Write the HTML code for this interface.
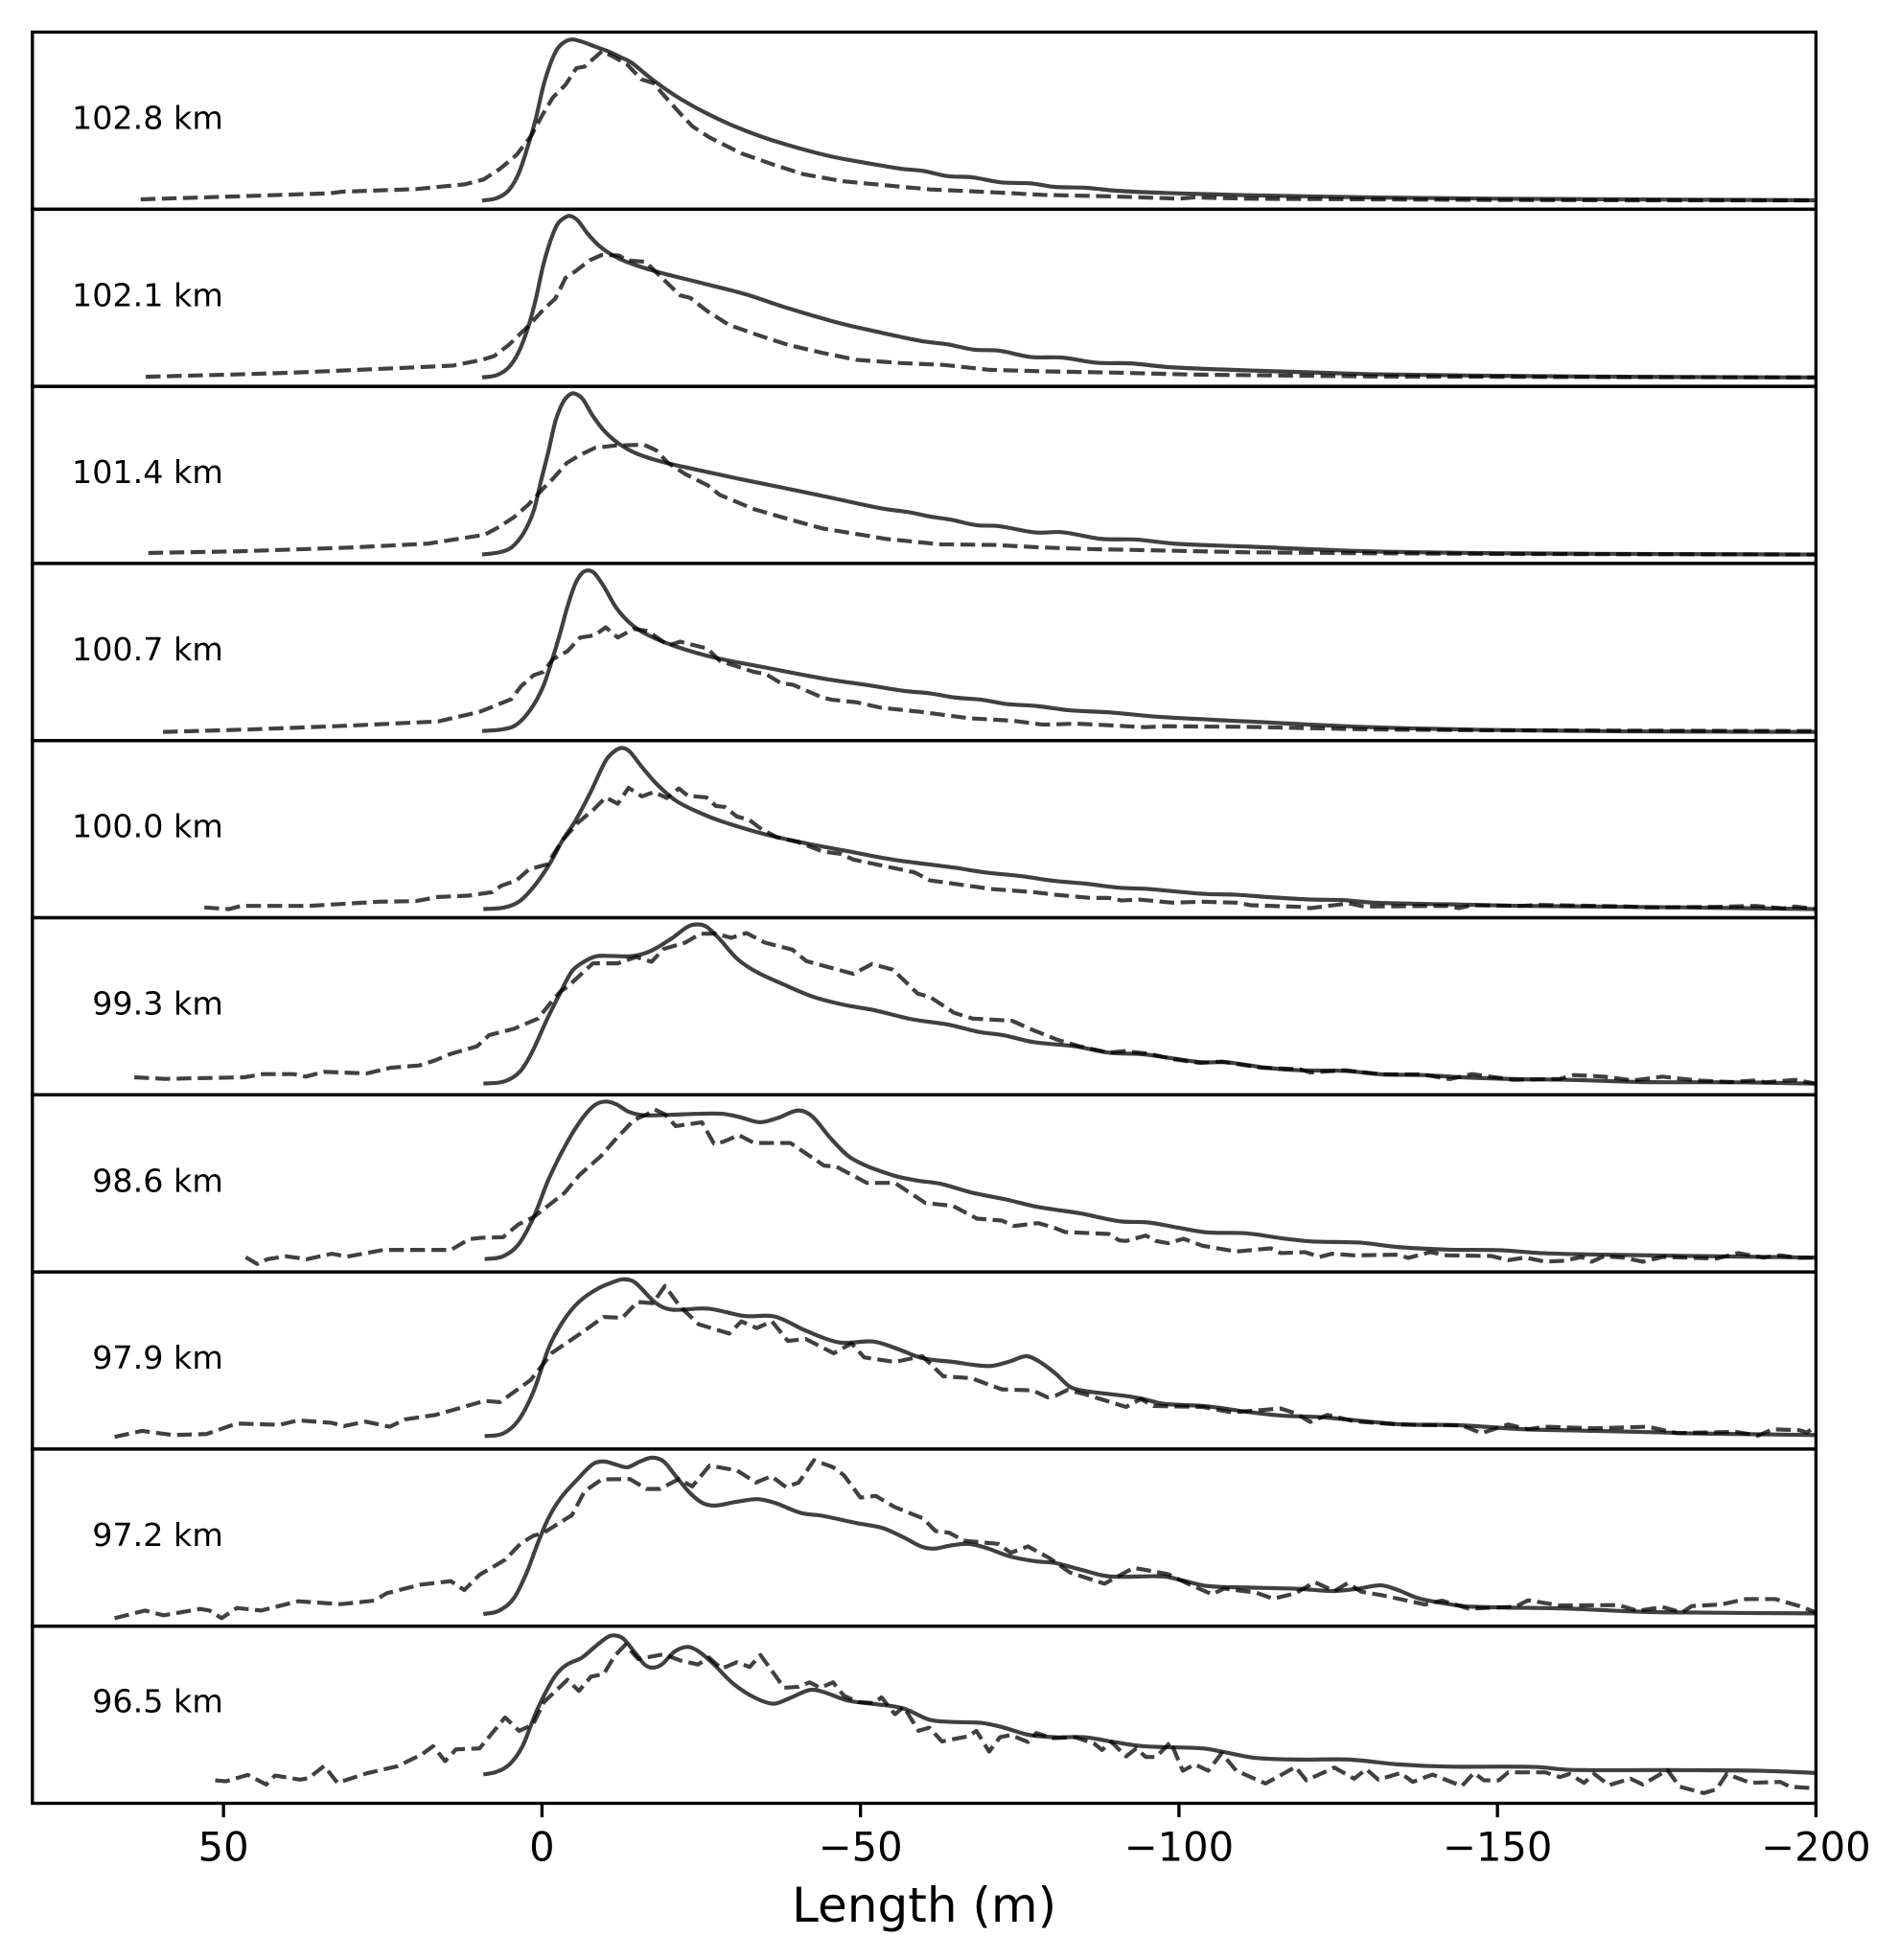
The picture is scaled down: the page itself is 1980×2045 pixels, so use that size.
<!DOCTYPE html>
<html lang="en">
<head>
<meta charset="utf-8">
<title>Length profiles by altitude</title>
<style>
html,body{margin:0;padding:0;background:#fff;}
svg{display:block;font-family:"DejaVu Sans",sans-serif;}
</style>
</head>
<body>
<svg id="chart" xmlns="http://www.w3.org/2000/svg" width="1980" height="2045" viewBox="0 0 1980 2045">
<rect x="0" y="0" width="1980" height="2045" fill="#ffffff"></rect>
</svg>
<script>
// Panel categories, top to bottom
const panelLabels = ['102.8 km','102.1 km','101.4 km','100.7 km','100.0 km','99.3 km','98.6 km','97.9 km','97.2 km','96.5 km'];
const xTicks = [50,0,-50,-100,-150,-200];
const xTickLabels = ['50','0','\u221250','\u2212100','\u2212150','\u2212200'];
const xAxisTitle = 'Length (m)';

// Each series: [length in m, relative intensity on a 0-555 panel scale]
const solid1028 = [[9.4,27],[7.1,35],[5.2,60],[3.6,115],[2.1,205],[0.95,285],[-0.2,385],[-1.4,460],[-2.5,505],[-3.7,526],[-4.8,532],[-6.4,524],[-8.3,510],[-10.6,493],[-12.5,475],[-14,460],[-17.1,410],[-21,355],[-25.6,303],[-30.2,260],[-34.8,225],[-40.2,192],[-45.5,165],[-50.9,145],[-56.3,127],[-59.8,120],[-63.6,104],[-67.5,100],[-72.1,84],[-76.7,81],[-80.5,70],[-85.5,67],[-90.1,58],[-97.8,51],[-110.7,44],[-130,37],[-150,33],[-170,31],[-200,28]];
const dashed1028 = [[63,31],[46.7,41],[33.2,50],[31.3,55],[19.8,63],[12.1,78],[9.2,93],[6.7,125],[4,170],[1.7,230],[-0.2,300],[-1.7,350],[-3.7,390],[-5.4,442],[-6.7,447],[-9.4,495],[-11,480],[-13.3,455],[-15.6,407],[-17.5,395],[-19,360],[-21.7,300],[-23.6,260],[-26.3,225],[-31.3,175],[-36.3,140],[-41,110],[-47.1,88],[-54,75],[-61,62],[-71,53],[-78.6,45],[-90.1,40],[-100,33],[-102.4,37],[-110.7,33],[-130,31],[-150,29],[-170,28],[-200,28]];

const solid1021 = [[9.4,28],[7.1,35],[5.2,60],[3.6,110],[2.1,190],[0.95,275],[-0.2,380],[-1.4,460],[-2.5,510],[-3.7,530],[-4.4,534],[-5.6,520],[-7.1,480],[-9,440],[-11,412],[-13.3,390],[-17.9,360],[-24.8,325],[-31.7,290],[-38.6,245],[-46.7,198],[-51.7,175],[-56.3,155],[-60.2,140],[-63.6,132],[-67.8,115],[-71.7,112],[-76.7,92],[-81.7,90],[-87.1,74],[-92.4,72],[-98.6,60],[-110.7,50],[-130,38],[-150,33],[-170,30],[-200,28]];
const dashed1021 = [[62.2,30],[46.7,38],[39,43],[22.7,57],[14,65],[9.4,83],[7.5,95],[5.2,130],[2.1,190],[-0.2,240],[-2.1,275],[-3.7,340],[-5.2,360],[-7.5,395],[-9.4,412],[-12.1,410],[-13.3,395],[-16.3,390],[-18.3,350],[-21.7,285],[-23.3,277],[-26,235],[-29.4,192],[-34,160],[-38.6,130],[-44,105],[-49.4,83],[-56.3,73],[-63.2,67],[-70.1,52],[-78.6,47],[-90.1,43],[-101.7,37],[-110.7,35],[-130,31],[-150,30],[-170,29],[-200,28]];

const solid1014 = [[9.4,28],[6.7,35],[4.8,50],[2.9,95],[1.3,165],[0.2,255],[-1,350],[-2.1,445],[-3.3,505],[-4.4,530],[-5.2,532],[-6.4,515],[-7.9,465],[-9.8,415],[-12.1,375],[-14.8,345],[-18.6,320],[-24,295],[-31,265],[-37.9,237],[-45.6,205],[-53.2,173],[-57.8,160],[-60.9,147],[-64,138],[-68.2,120],[-71.7,117],[-77.5,97],[-81.7,98],[-87.8,77],[-93.2,75],[-99.3,62],[-110.7,53],[-130,38],[-150,32],[-170,30],[-200,28]];
const dashed1014 = [[61.8,33],[47.7,38],[30,50],[18,62],[9,90],[6.7,115],[4.4,145],[2.1,185],[-0.2,235],[-1.7,265],[-3.9,315],[-6,340],[-8.3,362],[-11.7,370],[-16,372],[-17.9,355],[-19.8,315],[-22.5,280],[-26,245],[-27.9,215],[-33.3,170],[-39.4,135],[-44,110],[-54,77],[-62.5,60],[-71,58],[-78.6,50],[-86.3,45],[-94,42],[-110.7,35],[-130,32],[-150,30],[-170,29],[-200,28]];

const solid1007 = [[9.4,30],[6.3,35],[4,50],[1.7,100],[-0.2,170],[-1.7,260],[-2.9,340],[-4,420],[-5.2,490],[-6.3,525],[-7.3,533],[-8.3,523],[-9.8,480],[-11.7,415],[-14,365],[-16.7,330],[-21,295],[-27.1,260],[-34.8,230],[-44,195],[-51.7,172],[-57.1,155],[-60.9,148],[-64.8,135],[-69,128],[-72.8,115],[-77.8,108],[-82.8,95],[-89.4,88],[-96.3,75],[-110.7,60],[-130,42],[-150,33],[-170,29],[-200,27]];
const dashed1007 = [[59.5,27],[45.7,35],[30,47],[16.3,60],[9.8,90],[7.5,108],[4.8,130],[3.3,170],[1.3,205],[-0.2,215],[-1.7,255],[-4,280],[-6,323],[-8.3,330],[-10,355],[-11.9,323],[-14.4,350],[-16.7,343],[-19.8,298],[-21.7,310],[-26,288],[-27.9,250],[-33.3,215],[-35.2,208],[-37.5,180],[-39.4,175],[-44,135],[-45.5,128],[-49.4,120],[-53.2,103],[-59.4,90],[-67.1,70],[-74,62],[-78.6,50],[-84,53],[-94.7,42],[-97.8,45],[-110.7,43],[-130,35],[-150,32],[-200,30]];

const solid1000 = [[9.2,27],[5.9,32],[3.5,52],[1.1,102],[-1.3,172],[-3.2,242],[-5.2,302],[-7.6,392],[-10,492],[-11.4,522],[-12.6,532],[-13.8,520],[-15.7,472],[-18.1,417],[-21,367],[-24.4,332],[-28.2,302],[-34.9,262],[-41.7,232],[-48.4,207],[-55.1,182],[-64.7,157],[-69.5,142],[-75.3,130],[-80.6,115],[-85.2,107],[-90.6,94],[-95.2,90],[-103.7,75],[-109,72],[-114.4,64],[-120.6,57],[-125.9,55],[-130.6,47],[-142.1,42],[-153.6,37],[-165.2,35],[-180.5,32],[-200,27]];
const dashed1000 = [[53,32],[49.1,27],[47.2,37],[39,37],[36.6,37],[25.6,50],[19.8,52],[16.4,65],[11.6,69],[7.8,80],[6.4,100],[4,117],[2,152],[-0.8,167],[-3.2,242],[-5.6,297],[-8,337],[-10,377],[-11.9,357],[-13.6,407],[-15.7,380],[-17.6,394],[-19.6,375],[-21.5,405],[-22.9,382],[-25.8,377],[-27.3,350],[-28.7,347],[-30.6,317],[-32.5,307],[-34.5,277],[-36.9,252],[-40.2,237],[-44.1,207],[-46.9,200],[-48.9,182],[-56.1,152],[-58.5,142],[-60.9,117],[-70.5,90],[-77.2,80],[-80.6,72],[-86,62],[-89,62],[-91,54],[-93.7,57],[-99,47],[-103.7,50],[-109,47],[-111.3,39],[-119,34],[-120.6,30],[-126.7,45],[-129,35],[-142,37],[-144,30],[-146,39],[-153.6,37],[-156.7,40],[-170.5,35],[-173.6,32],[-184.4,34],[-190.5,37],[-195,29],[-196.7,35],[-200,27]];

const solid993 = [[9.2,35],[5.9,42],[3.5,72],[1.6,132],[-0.8,237],[-2.8,317],[-4.7,387],[-6.6,417],[-8.5,434],[-10.9,435],[-14.3,435],[-17.2,452],[-20.5,492],[-22.9,527],[-24.4,534],[-25.8,527],[-27.7,492],[-30.6,427],[-33.5,387],[-37.8,347],[-42.6,307],[-47.4,282],[-52.2,265],[-58,237],[-63.8,220],[-68.6,197],[-72.4,187],[-77.2,165],[-83.7,152],[-89,132],[-94.4,127],[-99,114],[-103.7,102],[-107.5,102],[-113.6,85],[-119,77],[-126,75],[-132,64],[-138.2,62],[-144.4,55],[-153.6,49],[-161.3,47],[-172.8,40],[-188.2,39],[-200,35]];
const dashed993 = [[64,55],[59.2,50],[46.7,55],[43.8,65],[39,65],[37.1,57],[34.2,72],[27.5,67],[23.7,85],[19.3,92],[16.9,107],[14.5,127],[10.2,152],[8.3,187],[4.4,207],[0.6,239],[-1.3,287],[-2.8,322],[-4.2,342],[-6.1,377],[-8,412],[-11.9,412],[-14.8,432],[-17.2,417],[-19.1,457],[-22.5,477],[-24.9,505],[-27.3,505],[-29.7,492],[-32.1,507],[-35,477],[-39.3,455],[-41.5,419],[-48.9,379],[-51.8,410],[-55.1,392],[-59,317],[-60.9,307],[-64.7,257],[-67.6,239],[-73.8,232],[-77.2,202],[-81,172],[-84.4,152],[-89,132],[-91.4,137],[-95.2,129],[-99,112],[-103.3,100],[-106.7,104],[-112.9,85],[-119,80],[-120.6,70],[-126,77],[-132,64],[-138.2,64],[-142.5,49],[-146,65],[-152.5,47],[-159.8,50],[-162,62],[-166.7,57],[-171.3,45],[-175.9,57],[-181.3,45],[-186.7,40],[-190.5,45],[-192.1,39],[-196.7,47],[-200,35]];

const solid986 = [[9,40],[6.1,49],[3.7,86],[1.3,172],[-1.1,293],[-4,408],[-6.4,483],[-8.3,523],[-10,534],[-11.7,525],[-13.6,502],[-16,491],[-22.2,494],[-28,496],[-30.9,486],[-34.2,469],[-37.1,483],[-40.2,506],[-42.4,488],[-45.3,419],[-48.6,356],[-54.9,304],[-58.7,287],[-62.6,276],[-67.4,249],[-73.1,226],[-77,207],[-80.6,195],[-84.4,184],[-90.6,159],[-95.2,155],[-99.8,139],[-104.4,124],[-110.6,121],[-116.7,104],[-121.3,95],[-128.3,92],[-134.4,78],[-142.1,70],[-150.5,68],[-156.7,59],[-166.7,54],[-180.5,50],[-200,45]];
const dashed986 = [[46.5,46],[44.7,25],[43.1,40],[40.2,49],[36.9,40],[33,57],[30.6,48],[24.9,69],[14.3,69],[11.4,103],[9.5,107],[6.1,109],[3.7,149],[1.3,172],[-3.5,247],[-5.9,304],[-9.2,362],[-11.7,419],[-14.5,477],[-16.5,494],[-17.7,509],[-19.3,494],[-21,457],[-25.1,469],[-27,402],[-28.5,408],[-30.9,429],[-33.3,404],[-39,404],[-44.3,333],[-46.2,330],[-51,279],[-55.4,279],[-60.2,216],[-64.5,207],[-68.3,167],[-72.2,161],[-74.1,144],[-77.9,153],[-80.6,137],[-82.1,125],[-89,119],[-90.6,99],[-91.7,97],[-94.8,114],[-96.4,97],[-98.3,90],[-100.7,104],[-103.7,82],[-109,64],[-114.4,74],[-116,59],[-119.8,62],[-122.1,47],[-124,57],[-127.5,52],[-134.4,54],[-136,44],[-139.4,62],[-142.1,52],[-149,50],[-151.7,37],[-154.4,45],[-157.5,32],[-160.5,35],[-163.2,47],[-164.8,32],[-166.7,49],[-169.8,45],[-172.8,32],[-175.9,47],[-184.4,42],[-187.8,59],[-191.7,45],[-194.4,52],[-197.4,44],[-200,45]];

const solid979 = [[9,40],[6.1,49],[3.7,90],[1.3,182],[-1.1,319],[-3.5,406],[-5.9,463],[-8.8,503],[-11.7,527],[-13,532],[-14.6,522],[-17.9,457],[-20.3,437],[-26.1,440],[-31.8,417],[-36.6,415],[-41.4,371],[-46.7,334],[-52,337],[-55.8,314],[-59.7,285],[-64.5,273],[-70.2,260],[-73.5,275],[-76,291],[-78,275],[-80.6,237],[-82.9,195],[-85.2,182],[-91.4,167],[-94.4,157],[-97.5,142],[-104.4,134],[-110.6,117],[-116,105],[-122.1,100],[-128.3,89],[-135.2,77],[-143.6,75],[-154.4,62],[-165.2,57],[-175.9,52],[-180.5,49],[-200,44]];
const dashed979 = [[67.1,38],[62.8,57],[58,44],[52.7,47],[47.9,80],[41.2,76],[38.3,90],[33,82],[31.1,72],[27.7,86],[23.9,70],[21.5,93],[16.7,107],[9,151],[6.6,147],[1.8,216],[-1.6,302],[-5.9,360],[-9.7,414],[-12.6,411],[-15,461],[-17.4,457],[-19.3,511],[-21.7,446],[-24.6,391],[-29.4,362],[-31.3,400],[-33.7,379],[-36.1,400],[-38.6,339],[-41.4,345],[-45.8,300],[-48.6,331],[-50.6,287],[-55.4,273],[-59.7,291],[-63,228],[-67.4,222],[-72.2,187],[-77,184],[-79.4,162],[-80.6,167],[-82.5,185],[-85.2,172],[-91.7,132],[-94,157],[-96,135],[-103.7,132],[-108.3,115],[-116,127],[-118.3,112],[-120.6,85],[-123.3,107],[-127.5,87],[-134.4,77],[-144.4,74],[-147.5,50],[-151.7,77],[-154.8,62],[-157.5,70],[-165.2,65],[-173.6,70],[-178.2,50],[-187.4,54],[-190.9,42],[-193.2,62],[-197.4,59],[-198.6,52],[-200,72]];

const solid972 = [[9.2,38],[6.8,48],[4.4,88],[2.4,168],[0.7,258],[-1,338],[-3,403],[-5.7,463],[-8,508],[-9.7,516],[-11.7,506],[-13.4,498],[-15.4,516],[-17.3,528],[-19.1,516],[-21.1,468],[-23.2,418],[-25.2,386],[-27.2,378],[-30.6,390],[-33.9,398],[-36.6,386],[-40.6,355],[-44,346],[-49.4,323],[-53.4,308],[-56.8,278],[-59.5,250],[-61.5,243],[-64.2,253],[-66.9,258],[-69.6,246],[-73.6,218],[-77.6,203],[-80.6,198],[-84.4,178],[-89,156],[-97.5,156],[-100.6,143],[-104.4,126],[-111.3,121],[-119,117],[-124,110],[-128.3,118],[-131.7,128],[-134.4,113],[-137.5,88],[-142.1,70],[-146,61],[-161.3,55],[-171.3,46],[-179,43],[-200,40]];
const dashed972 = [[67.1,25],[62.3,49],[59.4,34],[53.7,54],[52.2,49],[50.3,25],[47.9,57],[44.1,49],[38.3,78],[31.6,69],[26.3,80],[24.4,103],[19.1,130],[14.3,141],[12.2,113],[9.8,161],[5.8,208],[3.4,258],[1.4,283],[-0.3,293],[-4.7,348],[-6.7,423],[-9.4,460],[-13.8,461],[-16.4,430],[-18.5,430],[-21.5,461],[-23.6,438],[-26.3,503],[-30.6,488],[-33.6,450],[-36,470],[-38.3,436],[-40.3,450],[-42.7,520],[-45.7,498],[-47.4,473],[-50,403],[-52.4,408],[-55.4,373],[-59.8,338],[-61.8,298],[-63.9,293],[-66.2,268],[-71.6,258],[-73.6,230],[-76.3,250],[-79.7,213],[-82.9,168],[-88.3,133],[-92.9,183],[-98.3,163],[-101.4,133],[-105.2,100],[-107.1,118],[-112.1,105],[-114.8,86],[-118.3,103],[-121.3,138],[-124.4,110],[-126.5,135],[-128.6,108],[-132.1,96],[-138.6,68],[-141.3,80],[-145.5,55],[-152.8,61],[-154.8,81],[-159.8,65],[-169,66],[-172,48],[-175.9,60],[-179,43],[-180.5,63],[-185.1,68],[-189,85],[-193.6,85],[-197.4,63],[-200,43]];

const solid965 = [[9.2,90],[7.1,99],[5.1,122],[3.1,177],[1.1,277],[-0.3,337],[-2,397],[-3.7,432],[-6.3,457],[-8.4,492],[-10.4,522],[-11.4,526],[-12.7,517],[-14.8,467],[-16.1,435],[-17.3,425],[-18.8,435],[-20.8,475],[-22.8,490],[-24.5,477],[-26.9,437],[-29.9,377],[-33.3,332],[-36.3,312],[-38.6,327],[-42,355],[-44,350],[-48,322],[-52.7,310],[-56.8,297],[-60.8,262],[-64.2,255],[-68.9,252],[-72.2,239],[-76.3,215],[-80.6,207],[-85.2,207],[-89.8,192],[-94.4,179],[-103.7,172],[-106.7,162],[-112.1,142],[-119,137],[-126.7,137],[-134.4,122],[-142.1,115],[-155.9,114],[-161.3,105],[-176.7,104],[-191.3,102],[-200,95]];
const dashed965 = [[51.3,72],[49.6,69],[46.2,89],[43.3,59],[41.9,87],[38,74],[36.6,79],[34.2,117],[32.1,64],[27.5,94],[22.7,116],[18.8,154],[17.1,179],[15.2,132],[13.5,169],[9.8,172],[5.8,269],[3.6,227],[1.4,247],[-0.3,317],[-4,387],[-5.8,352],[-7.7,397],[-9.7,405],[-11.4,462],[-13.1,497],[-15.1,452],[-19.1,467],[-21.8,447],[-24.5,435],[-26.2,457],[-28.2,422],[-30.6,442],[-32.6,427],[-34.3,465],[-38,362],[-40.3,365],[-42,379],[-43.7,362],[-45.7,379],[-47.4,337],[-49.7,317],[-52.1,314],[-53.3,332],[-55.4,279],[-56.8,302],[-59.1,227],[-60.8,237],[-62.8,194],[-66.9,210],[-68.2,227],[-70.2,162],[-71.9,207],[-73.6,214],[-76.3,192],[-77.6,220],[-80.3,204],[-83.7,207],[-86.7,187],[-87.9,167],[-89.4,192],[-91.7,147],[-93.3,172],[-94.8,145],[-96.4,145],[-98.7,192],[-100.6,102],[-102.5,122],[-104.6,102],[-106.7,157],[-109,102],[-113.6,62],[-118.3,114],[-120,72],[-124.4,112],[-127.5,77],[-129.4,107],[-131.3,74],[-134.8,95],[-136.7,67],[-139.8,90],[-144.4,54],[-146.3,95],[-147.9,72],[-150.2,72],[-151.7,97],[-157.5,97],[-159.8,82],[-161.3,92],[-163.6,64],[-165.2,92],[-167.5,57],[-170.9,77],[-172.8,59],[-176.7,104],[-178.6,52],[-182.4,32],[-184.4,44],[-186,92],[-189.7,64],[-194.4,67],[-195.9,52],[-200,47]];

const solidSeries = [solid1028,solid1021,solid1014,solid1007,solid1000,solid993,solid986,solid979,solid972,solid965];
const dashedSeries = [dashed1028,dashed1021,dashed1014,dashed1007,dashed1000,dashed993,dashed986,dashed979,dashed972,dashed965];

// Layout
const SVG_NS = 'http://www.w3.org/2000/svg';
const chart = document.getElementById('chart');
const axLeft = 33.8, axRight = 1894.4, axTop = 33.5, axBottom = 1881.5;
const panelH = (axBottom - axTop) / panelLabels.length;
const xMin = 80, xMax = -200, yMax = 555;
const spineW = 3.33, lineW = 4.17;

function xScale(v){ return axLeft + (xMin - v) / (xMin - xMax) * (axRight - axLeft); }
function yScale(v, i){ return axTop + (i + 1) * panelH - v / yMax * panelH; }
function make(tag){ return document.createElementNS(SVG_NS, tag); }
function fmt(n){ return n.toFixed(2); }

// Cubic Hermite through the points, tangents scaled to uneven x spacing
function smoothPath(pts){
  function slope(k){
    const a = pts[Math.max(k - 1, 0)], b = pts[Math.min(k + 1, pts.length - 1)];
    return (b[1] - a[1]) / (b[0] - a[0]);
  }
  let d = 'M' + fmt(pts[0][0]) + ' ' + fmt(pts[0][1]);
  for (let k = 0; k < pts.length - 1; k++){
    const p1 = pts[k], p2 = pts[k + 1], dx = (p2[0] - p1[0]) / 3;
    const c1x = p1[0] + dx, c1y = p1[1] + slope(k) * dx;
    const c2x = p2[0] - dx, c2y = p2[1] - slope(k + 1) * dx;
    d += 'C' + fmt(c1x) + ' ' + fmt(c1y) + ' ' + fmt(c2x) + ' ' + fmt(c2y) + ' ' + fmt(p2[0]) + ' ' + fmt(p2[1]);
  }
  return d;
}
function linePath(pts){
  return pts.map(function(p, k){ return (k ? 'L' : 'M') + fmt(p[0]) + ' ' + fmt(p[1]); }).join('');
}

const defs = make('defs');
chart.appendChild(defs);

panelLabels.forEach(function(label, i){
  const top = axTop + i * panelH;
  const clip = make('clipPath');
  clip.setAttribute('id', 'panel-clip-' + i);
  const clipRect = make('rect');
  clipRect.setAttribute('x', axLeft);
  clipRect.setAttribute('y', top);
  clipRect.setAttribute('width', axRight - axLeft);
  clipRect.setAttribute('height', panelH);
  clip.appendChild(clipRect);
  defs.appendChild(clip);

  const group = make('g');
  
  
  chart.appendChild(group);

  const dashed = make('path');
  
  
  dashed.setAttribute('d', linePath(dashedSeries[i].map(function(p){ return [xScale(p[0]), yScale(p[1], i)]; })));
  dashed.setAttribute('fill', 'none');
  dashed.setAttribute('stroke', '#000');
  dashed.setAttribute('stroke-opacity', '0.75');
  dashed.setAttribute('stroke-width', lineW);
  dashed.setAttribute('stroke-dasharray', '15.4 6.67');
  dashed.setAttribute('stroke-linejoin', 'round');
  dashed.setAttribute('clip-path', 'url(#panel-clip-' + i + ')');
  group.appendChild(dashed);

  const solid = make('path');
  
  
  solid.setAttribute('d', smoothPath(solidSeries[i].map(function(p){ return [xScale(p[0]), yScale(p[1], i)]; })));
  solid.setAttribute('fill', 'none');
  solid.setAttribute('stroke', '#000');
  solid.setAttribute('stroke-opacity', '0.75');
  solid.setAttribute('stroke-width', lineW);
  solid.setAttribute('stroke-linejoin', 'round');
  solid.setAttribute('clip-path', 'url(#panel-clip-' + i + ')');
  group.appendChild(solid);

  const text = make('text');
  
  
  text.setAttribute('x', 232.8);
  text.setAttribute('y', (i === panelLabels.length - 1 ? top + 101 - 11 : top + 101));
  text.setAttribute('text-anchor', 'end');
  text.setAttribute('font-size', '33.33');
  text.setAttribute('fill', '#000');
  text.textContent = label;
  group.appendChild(text);

  const frame = make('rect');
  
  
  frame.setAttribute('x', axLeft);
  frame.setAttribute('y', top);
  frame.setAttribute('width', axRight - axLeft);
  frame.setAttribute('height', panelH);
  frame.setAttribute('fill', 'none');
  frame.setAttribute('stroke', '#000');
  frame.setAttribute('stroke-width', spineW);
  group.appendChild(frame);
});

xTicks.forEach(function(t, i){
  const tick = make('line');
  
  
  tick.setAttribute('x1', xScale(t));
  tick.setAttribute('x2', xScale(t));
  tick.setAttribute('y1', axBottom);
  tick.setAttribute('y2', axBottom + 14.6);
  tick.setAttribute('stroke', '#000');
  tick.setAttribute('stroke-width', spineW);
  chart.appendChild(tick);

  const lab = make('text');
  
  
  lab.setAttribute('x', xScale(t));
  lab.setAttribute('y', 1941.7);
  lab.setAttribute('text-anchor', 'middle');
  lab.setAttribute('font-size', '41.67');
  lab.setAttribute('fill', '#000');
  lab.textContent = xTickLabels[i];
  chart.appendChild(lab);
});

const title = make('text');


title.setAttribute('x', (axLeft + axRight) / 2);
title.setAttribute('y', 2005);
title.setAttribute('text-anchor', 'middle');
title.setAttribute('font-size', '50');
title.setAttribute('fill', '#000');
title.textContent = xAxisTitle;
chart.appendChild(title);
</script>
</body>
</html>
